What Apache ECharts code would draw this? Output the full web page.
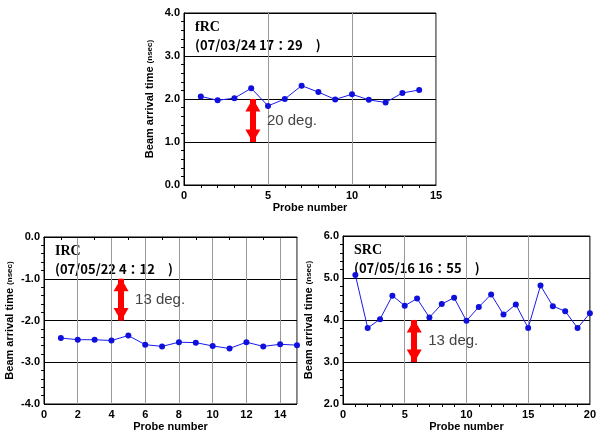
<!DOCTYPE html>
<html>
<head>
<meta charset="utf-8">
<script src="https://cdn.jsdelivr.net/npm/echarts@6/dist/echarts.min.js"></script>
<style>
  html, body { margin: 0; padding: 0; background: #fff; }
  #charts { width: 599px; height: 433px; }
</style>
</head>
<body>
<div id="charts"></div>
<script>
// probe readings (nsec) for each ring
var frcProbes = [1, 2, 3, 4, 5, 6, 7, 8, 9, 10, 11, 12, 13, 14];
var frcTime = [2.06, 1.97, 2.02, 2.25, 1.84, 2.0, 2.31, 2.16, 1.99, 2.11, 1.98, 1.92, 2.14, 2.21];

var ircProbes = [1, 2, 3, 4, 5, 6, 7, 8, 9, 10, 11, 12, 13, 14, 15];
var ircTime = [-2.42, -2.46, -2.46, -2.48, -2.36, -2.58, -2.62, -2.52, -2.53, -2.61, -2.67, -2.52, -2.62, -2.57, -2.59];

var srcProbes = [1, 2, 3, 4, 5, 6, 7, 8, 9, 10, 11, 12, 13, 14, 15, 16, 17, 18, 19, 20];
var srcTime = [5.07, 3.81, 4.02, 4.58, 4.34, 4.51, 4.06, 4.38, 4.53, 3.98, 4.31, 4.61, 4.13, 4.37, 3.81, 4.82, 4.33, 4.21, 3.81, 4.16];

var titles = ['fRC', 'IRC', 'SRC'];
var stamps = ['(07/03/24 17\uFF1A29\u3000)', '(07/05/22 4\uFF1A12\u3000)', '(07/05/16 16\uFF1A55\u3000)'];

// red arrows: x position, from, to, label
var arrowX = [4.1, 4.57, 5.77];
var arrowFrom = [2.0, -1.0, 4.0];
var arrowTo = [1.0, -2.0, 3.0];
var arrowText = ['20 deg.', '13 deg.', '13 deg.'];

var xMax = [15, 15, 20];
var xStep = [5, 2, 5];
var yMin = [0, -4, 2];
var yMax = [4, 0, 6];

var charts = echarts.init(document.getElementById('charts'));

var grids = [
    { left: 184, top: 13, width: 252, height: 172 },
    { left: 44, top: 237, width: 253, height: 171 },
    { left: 343, top: 236, width: 253, height: 171 }
];

var xAxes = [], yAxes = [], series = [], graphics = [];
var probeSets = [frcProbes, ircProbes, srcProbes];
var timeSets = [frcTime, ircTime, srcTime];

for (var i = 0; i < 3; i++) {
    grids[i].show = true;
    grids[i].borderColor = '#000';
    grids[i].borderWidth = 1;
    grids[i].backgroundColor = '#fff';

    xAxes.push({
        gridIndex: i,
        type: 'value',
        min: 0,
        max: xMax[i],
        interval: xStep[i],
        name: 'Probe number',
        nameLocation: 'middle',
        nameGap: 17,
        nameTextStyle: { color: '#000', fontWeight: 'bold', fontSize: 11, fontFamily: 'Liberation Sans' },
        axisLine: { show: true, lineStyle: { color: '#000' } },
        axisTick: { show: false },
        minorTick: { show: true, splitNumber: xStep[i] == 2 ? 2 : 5, length: 3, lineStyle: { color: '#000' } },
        axisLabel: { color: '#000', fontWeight: 'bold', fontSize: 11, margin: 5, showMaxLabel: xStep[i] != 2, fontFamily: 'Liberation Sans' },
        splitLine: { show: true, lineStyle: { color: '#999', width: 1 } }
    });
    yAxes.push({
        gridIndex: i,
        type: 'value',
        min: yMin[i],
        max: yMax[i],
        interval: 1,
        name: '{a|Beam arrival time }{b|(nsec)}',
        nameLocation: 'middle',
        nameGap: 29,
        nameTextStyle: {
            rich: {
                a: { color: '#000', fontWeight: 'bold', fontSize: 11, fontFamily: 'Liberation Sans' },
                b: { color: '#000', fontWeight: 'bold', fontSize: 8, fontFamily: 'Liberation Sans' }
            }
        },
        axisLine: { show: true, lineStyle: { color: '#000' } },
        axisTick: { show: false },
        minorTick: { show: true, splitNumber: 5, length: 3, lineStyle: { color: '#000' } },
        axisLabel: {
            color: '#000', fontWeight: 'bold', fontSize: 11, margin: 4, fontFamily: 'Liberation Sans',
            formatter: function (v) { return v.toFixed(1); }
        },
        splitLine: { show: true, lineStyle: { color: '#000', width: 1 } }
    });

    var pts = [];
    for (var k = 0; k < probeSets[i].length; k++) {
        pts.push([probeSets[i][k], timeSets[i][k]]);
    }
    series.push({
        type: 'line',
        xAxisIndex: i,
        yAxisIndex: i,
        data: pts,
        symbol: 'circle',
        symbolSize: 6,
        lineStyle: { color: '#1a1aee', width: 1 },
        itemStyle: { color: '#1010dd' },
        markLine: {
            silent: true,
            symbol: ['triangle', 'triangle'],
            symbolSize: [15, 13],
            symbolOffset: [[0, 6], [0, 6]],
            lineStyle: { color: '#ff0000', width: 6, type: 'solid' },
            itemStyle: { color: '#ff0000' },
            label: { show: false },
            data: [[
                { coord: [arrowX[i], arrowFrom[i]] },
                { coord: [arrowX[i], arrowTo[i]] }
            ]]
        },
        markPoint: {
            silent: true,
            symbolSize: 0,
            label: {
                show: true,
                position: 'right',
                distance: 14,
                color: '#444',
                fontSize: 15,
                fontFamily: 'Liberation Sans',
                formatter: arrowText[i]
            },
            data: [{ coord: [arrowX[i], (arrowFrom[i] + arrowTo[i]) / 2] }]
        }
    });

    graphics.push({
        type: 'text',
        left: grids[i].left + 11,
        top: grids[i].top + 7,
        style: { text: titles[i], fill: '#000', font: 'bold 14px "Liberation Serif"' }
    });
    graphics.push({
        type: 'text',
        left: grids[i].left + 11,
        top: grids[i].top + 26,
        style: { text: stamps[i], fill: '#000', font: 'bold 13px "Noto Sans CJK JP"' }
    });
}

var option = {
    backgroundColor: '#fff',
    animation: false,
    grid: grids,
    xAxis: xAxes,
    yAxis: yAxes,
    series: series,
    graphic: graphics
};

charts.setOption(option);
</script>
</body>
</html>
